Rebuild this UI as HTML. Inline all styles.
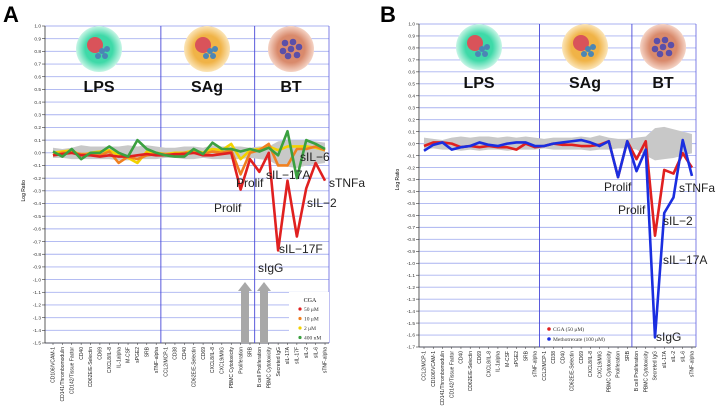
<!DOCTYPE html>
<html><head><meta charset="utf-8">
<style>
html,body{margin:0;padding:0;background:#fff;}
svg{display:block;font-family:"Liberation Sans",sans-serif;}
</style></head>
<body>
<svg id="c" width="716" height="419" viewBox="0 0 716 419">
<defs>
<radialGradient id="gLPS"><stop offset="0.6" stop-color="#3fd9a8"/><stop offset="1" stop-color="#c8f5e6"/></radialGradient>
<radialGradient id="gSAg"><stop offset="0.6" stop-color="#f0b347"/><stop offset="1" stop-color="#fbe5b8"/></radialGradient>
<radialGradient id="gBT"><stop offset="0.6" stop-color="#d98a6c"/><stop offset="1" stop-color="#f5d4c6"/></radialGradient>
</defs>
</svg>
<script>
// ---- Panel A data ----
const catsA = ["CD106/VCAM-1","CD141/Thrombomodulin","CD142/Tissue Factor","CD40","CD62E/E-Selectin","CD69","CXCL8/IL-8","IL-1alpha","M-CSF","sPGE2","SRB","sTNF-alpha","CCL2/MCP-1","CD38","CD40","CD62E/E-Selectin","CD69","CXCL8/IL-8","CXCL9/MIG","PBMC Cytotoxicity","Proliferation","SRB","B cell Proliferation","PBMC Cytotoxicity","Secreted IgG","sIL-17A","sIL-17F","sIL-2","sIL-6","sTNF-alpha"];
const a50 = [-0.02,-0.01,0,-0.02,-0.02,-0.03,-0.02,-0.03,-0.03,-0.02,-0.01,-0.02,-0.02,-0.01,-0.01,0,-0.02,-0.02,-0.01,0,-0.29,-0.05,-0.15,0,-0.77,-0.22,-0.66,-0.28,-0.08,-0.22];
const a10 = [-0.02,0,0,-0.01,-0.01,-0.02,0.01,-0.08,-0.03,-0.05,-0.02,-0.01,-0.01,-0.02,0,0,-0.01,0.01,0,0.02,-0.17,0,0.02,0.07,-0.1,-0.1,0.03,0.03,0.05,0.02];
const a2 = [0,0.01,0.02,-0.02,0,0.01,0.02,-0.02,-0.04,-0.08,0.01,0,-0.01,0,0,0.02,0,0.03,0.02,0.07,-0.05,0.02,0.03,0.05,0.02,0.05,0.05,0.05,0.04,0.02];
const a400 = [0.01,-0.03,0.03,-0.05,0,0,0.05,0,-0.03,0.1,0.03,0,-0.02,-0.03,-0.03,0.03,-0.01,0.08,0.03,0.03,0.01,0.03,0.01,0.04,-0.02,0.17,-0.2,0.1,0.07,0.03];
const bandAhi = [0.04,0.03,0.04,0.06,0.05,0.05,0.05,0.05,0.06,0.05,0.06,0.05,0.04,0.04,0.05,0.05,0.04,0.06,0.05,0.05,0.05,0.04,0.05,0.05,0.09,0.1,0.1,0.1,0.09,0.08];
const bandAlo = [-0.04,-0.04,-0.05,-0.05,-0.05,-0.05,-0.05,-0.06,-0.06,-0.05,-0.05,-0.05,-0.04,-0.04,-0.05,-0.05,-0.04,-0.05,-0.05,-0.05,-0.05,-0.04,-0.05,-0.06,-0.1,-0.11,-0.12,-0.1,-0.09,-0.08];
// ---- Panel B data ----
const catsB = ["CCL2/MCP-1","CD106/VCAM-1","CD141/Thrombomodulin","CD142/Tissue Factor","CD40","CD62E/E-Selectin","CD69","CXCL8/IL-8","IL-1alpha","M-CSF","sPGE2","SRB","sTNF-alpha","CCL2/MCP-1","CD38","CD40","CD62E/E-Selectin","CD69","CXCL8/IL-8","CXCL9/MIG","PBMC Cytotoxicity","Proliferation","SRB","B cell Proliferation","PBMC Cytotoxicity","Secreted IgG","sIL-17A","sIL-2","sIL-6","sTNF-alpha"];
const bCGA = [-0.02,0.01,0.01,0,-0.03,-0.02,-0.03,-0.02,-0.03,-0.03,-0.05,0,-0.03,-0.02,0,-0.01,-0.01,-0.02,-0.02,-0.01,0.02,-0.28,0.02,-0.13,0.02,-0.77,-0.22,-0.25,-0.08,-0.2];
const bMTX = [-0.06,-0.01,0.01,-0.05,-0.03,-0.02,0.01,-0.01,-0.02,0,0.01,0.01,-0.02,-0.02,0,0.01,0.02,0.03,0.01,-0.02,0.02,-0.28,0.02,-0.23,-0.05,-1.62,-0.58,-0.45,0.03,-0.27];
const bandBhi = [0.05,0.04,0.03,0.05,0.06,0.05,0.06,0.06,0.05,0.06,0.05,0.06,0.05,0.04,0.05,0.05,0.05,0.06,0.05,0.07,0.05,0.04,0.04,0.05,0.06,0.13,0.14,0.12,0.1,0.08];
const bandBlo = [-0.05,-0.04,-0.05,-0.05,-0.06,-0.05,-0.06,-0.05,-0.05,-0.06,-0.05,-0.05,-0.05,-0.04,-0.05,-0.05,-0.05,-0.05,-0.06,-0.05,-0.05,-0.04,-0.04,-0.05,-0.1,-0.14,-0.13,-0.12,-0.1,-0.08];

const NS="http://www.w3.org/2000/svg";
const svg=document.getElementById('c');
function mk(tag,attrs,parent){const e=document.createElementNS(NS,tag);for(const k in attrs)e.setAttribute(k,attrs[k]);(parent||svg).appendChild(e);return e;}

function panel(P){
  const g=mk('g',{});
  
  
  const y=v=>P.top+(P.ymax-v)*(P.bottom-P.top)/(P.ymax-P.ymin);
  const x=i=>P.x0+i*P.dx;
  const L=mk('text',{x:P.letterX,y:22,'font-size':22,'font-weight':'bold',fill:'#000'},g);L.textContent=P.letter;
  
  const steps=Math.round((P.ymax-P.ymin)/0.1);
  for(let k=0;k<=steps;k++){
    const v=P.ymax-k*0.1, yy=y(v);
    const ln=mk('line',{x1:P.left,x2:P.right,y1:yy,y2:yy,stroke:'#a9b2f0','stroke-width':0.9},g);
    
    mk('line',{x1:P.left-3,x2:P.left,y1:yy,y2:yy,stroke:'#333','stroke-width':0.6},g);
    const t=mk('text',{x:P.left-4,y:yy+1.7,'font-size':4.8,'text-anchor':'end',fill:'#333'},g);
    t.textContent=(Math.abs(v)<1e-9?'0.0':v.toFixed(1));
    
  }
  mk('line',{x1:P.left,x2:P.left,y1:P.top,y2:P.bottom,stroke:'#333','stroke-width':0.8},g);
  mk('line',{x1:P.left,x2:P.right,y1:P.bottom,y2:P.bottom,stroke:'#333','stroke-width':0.8},g);
  mk('line',{x1:P.right,x2:P.right,y1:P.top,y2:P.bottom,stroke:'#6060e0','stroke-width':0.8},g);
  const yt=mk('text',{x:0,y:0,'font-size':5,'text-anchor':'middle',transform:`translate(${P.left-20},${y(-0.3)}) rotate(-90)`},g);
  yt.textContent='Log Ratio';
  P.div.forEach(d=>{const xx=(x(d)+x(d+1))/2;const ln=mk('line',{x1:xx,x2:xx,y1:P.top,y2:P.bottom,stroke:'#4848d8','stroke-width':0.9},g);
    });
  P.cats.forEach((c,i)=>{mk('line',{x1:x(i),x2:x(i),y1:P.bottom,y2:P.bottom+2,stroke:'#333','stroke-width':0.5},g);
    const t=mk('text',{'font-size':5,'text-anchor':'end',fill:'#222',transform:`translate(${x(i)+1.7},${P.bottom+4}) rotate(-90)`},g);
    t.textContent=c;});
  let d='M'+P.bandHi.map((v,i)=>x(i)+','+y(v)).join('L');
  for(let i=P.bandLo.length-1;i>=0;i--)d+='L'+x(i)+','+y(P.bandLo[i]);
  const band=mk('path',{d:d+'Z',fill:'#c8c8c8'},g);
  P.icons.forEach(ic=>{
    const ig=mk('g',{},g);
    mk('circle',{cx:ic.x,cy:ic.y,r:23,fill:'url(#g'+ic.t+')'},ig);
    if(ic.t!=='BT'){mk('circle',{cx:ic.x-4,cy:ic.y-4,r:8,fill:'#d9535a'},ig);}
    const dots=ic.t==='BT'?[[-6,-6],[2,-7],[8,-2],[-8,2],[0,0],[6,6],[-3,7]]:[[3,2],[8,0],[-1,7],[6,7]];
    dots.forEach(p=>mk('circle',{cx:ic.x+p[0],cy:ic.y+p[1],r:ic.t==='BT'?3.3:3,fill:ic.t==='BT'?'#5b4fa8':'#4b86b5'},ig));
    const t=mk('text',{x:ic.x,y:P.lblY,'font-size':16,'font-weight':'bold','text-anchor':'middle',fill:'#111'},g);
    t.textContent=ic.t;
  });
  P.series.forEach(s=>{
    const pl=mk('polyline',{points:s.v.map((v,i)=>x(i)+','+y(v)).join(' '),fill:'none',stroke:s.c,'stroke-width':s.w||2.6,'stroke-linejoin':'round'},g);
    
  });
  P.ann.forEach(a=>{const t=mk('text',{x:a[1],y:a[2],'font-size':a[3]||12,fill:'#222'},g);t.textContent=a[0];
    });
  return {g,x,y};
}

const A=panel({name:'panel-a',letter:'A',letterX:3,left:45,right:329,top:26,bottom:343,ymax:1.0,ymin:-1.5,x0:53,dx:9.38,
  div:[11,21],cats:catsA,bandHi:bandAhi,bandLo:bandAlo,lblY:92,
  icons:[{t:'LPS',x:99,y:49},{t:'SAg',x:207,y:49},{t:'BT',x:291,y:49}],
  series:[{n:'series-2uM',v:a2,c:'#f2d200'},{n:'series-10uM',v:a10,c:'#f08020'},{n:'series-50uM',v:a50,c:'#e02020'},{n:'series-400nM',v:a400,c:'#3aa040'}],
  ann:[['Prolif',236,187],['Prolif',214,212],['sIL−17A',266,179],['sIL−6',300,161],['sTNFa',329,187],['sIL−2',307,207],['sIL−17F',279,253],['sIgG',258,272]]});
[245,264].forEach(ax=>{const p=mk('path',{d:`M${ax-4},343 L${ax-4},291 L${ax-7},291 L${ax},282 L${ax+7},291 L${ax+4},291 L${ax+4},343Z`,fill:'#a8a8a8'},A.g);
  });
(function(){const lg=mk('g',{},A.g);
  mk('rect',{x:289,y:292,width:40,height:50,fill:'#fff'},lg);
  const t=mk('text',{x:310,y:302,'font-size':6,'text-anchor':'middle','font-family':'Liberation Serif'},lg);t.textContent='CGA';
  [['50 μM','#e02020'],['10 μM','#f08020'],['2 μM','#f2d200'],['400 nM','#3aa040']].forEach((e,i)=>{
    const eg=mk('g',{},lg);
    mk('circle',{cx:300,cy:309+i*9.5,r:1.6,fill:e[1]},eg);
    const tt=mk('text',{x:304,y:311+i*9.5,'font-size':5.5,'font-family':'Liberation Serif',fill:'#333'},eg);tt.textContent=e[0];});
})();

const B=panel({name:'panel-b',letter:'B',letterX:380,left:419,right:696,top:24,bottom:347,ymax:1.0,ymin:-1.7,x0:424,dx:9.24,
  div:[12,22],cats:catsB,bandHi:bandBhi,bandLo:bandBlo,lblY:88,
  icons:[{t:'LPS',x:479,y:47},{t:'SAg',x:585,y:47},{t:'BT',x:663,y:47}],
  series:[{n:'series-cga',v:bCGA,c:'#e02020'},{n:'series-methotrexate',v:bMTX,c:'#1a2ee0'}],
  ann:[['Prolif',604,191],['Prolif',618,214],['sTNFa',679,192],['sIL−2',663,225],['sIL−17A',663,264],['sIgG',656,341]]});
(function(){const lg=mk('g',{},B.g);
  [['CGA (50 μM)','#e02020'],['Methotrexate (100 μM)','#1a2ee0']].forEach((e,i)=>{
    const eg=mk('g',{},lg);
    mk('circle',{cx:549,cy:329+i*10,r:1.8,fill:e[1]},eg);
    const tt=mk('text',{x:553,y:331+i*10,'font-size':5.5,'font-family':'Liberation Serif',fill:'#333'},eg);tt.textContent=e[0];});
})();
</script>
</body></html>
